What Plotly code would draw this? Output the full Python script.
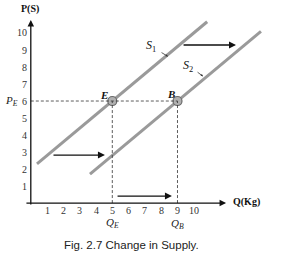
import plotly.graph_objects as go

# Data
x_ticks = [1, 2, 3, 4, 5, 6, 7, 8, 9, 10]
y_ticks = [1, 2, 3, 4, 5, 6, 7, 8, 9, 10]
s1_x = [0.38, 10.82]
s1_y = [2.3, 10.66]
s2_x = [3.63, 14.12]
s2_y = [1.7, 10.1]
eq_q = [5, 9]
eq_p = [6, 6]
eq_names = ["E", "B"]
shift_arrows = [  # (x0, x1, y)
    (9.28, 12.59, 9.29),
    (1.3, 4.55, 2.82),
    (5.23, 8.66, 0.41),
]

fig = go.Figure()
gray = "#9a9a9a"
fig.add_trace(go.Scatter(x=s1_x, y=s1_y, mode="lines", line=dict(color=gray, width=3), hoverinfo="skip"))
fig.add_trace(go.Scatter(x=s2_x, y=s2_y, mode="lines", line=dict(color=gray, width=3), hoverinfo="skip"))

# dashed guides
dash = "3px,2px"
fig.add_shape(type="line", x0=0, x1=eq_q[1], y0=eq_p[0], y1=eq_p[0], line=dict(color="#333", width=0.8, dash=dash))
for q, p in zip(eq_q, eq_p):
    fig.add_shape(type="line", x0=q, x1=q, y0=0, y1=p, line=dict(color="#333", width=0.8, dash=dash))

fig.add_trace(go.Scatter(x=eq_q, y=eq_p, mode="markers",
                         marker=dict(size=9, color="#b0b0b0", line=dict(color="#6a6a6a", width=1.2)),
                         hoverinfo="skip"))

ann = []
# axes
ann.append(dict(x=11.98, y=0, ax=-0.36, ay=0, xref="x", yref="y", axref="x", ayref="y",
                showarrow=True, arrowhead=2, arrowsize=1, arrowwidth=1.3, arrowcolor="#111", text=""))
ann.append(dict(x=0, y=10.76, ax=0, ay=-0.18, xref="x", yref="y", axref="x", ayref="y",
                showarrow=True, arrowhead=2, arrowsize=1, arrowwidth=1.3, arrowcolor="#111", text=""))
# shift arrows
for x0, x1, y in shift_arrows:
    ann.append(dict(x=x1, y=y, ax=x0, ay=y, xref="x", yref="y", axref="x", ayref="y",
                    showarrow=True, arrowhead=2, arrowsize=1, arrowwidth=1.4, arrowcolor="#111", text=""))

serif = "Liberation Serif"
for t in x_ticks:
    ann.append(dict(x=t, y=-0.42, xref="x", yref="y", text=str(t), showarrow=False,
                    font=dict(family=serif, size=10, color="#333")))
for t in y_ticks:
    ann.append(dict(x=-0.12, y=t, xref="x", yref="y", text=str(t), showarrow=False, xanchor="right",
                    font=dict(family=serif, size=10, color="#333")))

ann.append(dict(x=-0.02, y=11.41, xref="x", yref="y", text="<b>P(S)</b>", showarrow=False,
                font=dict(family=serif, size=10, color="#111")))
ann.append(dict(x=12.3, y=0.08, xref="x", yref="y", text="<b>Q(Kg)</b>", showarrow=False, xanchor="left",
                font=dict(family=serif, size=10, color="#111")))
ann.append(dict(x=-1.21, y=6, xref="x", yref="y", text="<i>P<sub>E</sub></i>", showarrow=False,
                font=dict(family=serif, size=11, color="#222")))
ann.append(dict(x=5, y=-1.2, xref="x", yref="y", text="<i>Q<sub>E</sub></i>", showarrow=False,
                font=dict(family=serif, size=11, color="#222")))
ann.append(dict(x=9, y=-1.22, xref="x", yref="y", text="<i>Q<sub>B</sub></i>", showarrow=False,
                font=dict(family=serif, size=11, color="#222")))
ann.append(dict(x=4.5, y=6.38, xref="x", yref="y", text="<b><i>E</i></b>", showarrow=False,
                font=dict(family=serif, size=11, color="#111")))
ann.append(dict(x=8.62, y=6.42, xref="x", yref="y", text="<b><i>B</i></b>", showarrow=False,
                font=dict(family=serif, size=11, color="#111")))
ann.append(dict(x=7.37, y=9.24, xref="x", yref="y", text="<i>S</i><sub>1</sub>", showarrow=False,
                font=dict(family=serif, size=12, color="#111")))
ann.append(dict(x=9.64, y=8.06, xref="x", yref="y", text="<i>S</i><sub>2</sub>", showarrow=False,
                font=dict(family=serif, size=12, color="#111")))
ann.append(dict(x=8.42, y=8.62, ax=7.93, ay=8.9, xref="x", yref="y", axref="x", ayref="y",
                showarrow=True, arrowhead=2, arrowsize=0.6, arrowwidth=0.8, arrowcolor="#333", text=""))
ann.append(dict(x=10.57, y=7.45, ax=10.14, ay=7.76, xref="x", yref="y", axref="x", ayref="y",
                showarrow=True, arrowhead=2, arrowsize=0.6, arrowwidth=0.8, arrowcolor="#333", text=""))
ann.append(dict(x=6.15, y=-2.47, xref="x", yref="y", text="Fig. 2.7 Change in Supply.", showarrow=False,
                font=dict(family="Liberation Sans", size=11.5, color="#222")))

fig.update_layout(
    width=288, height=259, margin=dict(l=0, r=0, t=0, b=0),
    paper_bgcolor="white", plot_bgcolor="white", showlegend=False,
    xaxis=dict(range=[-1.89, 15.78], visible=False, fixedrange=True),
    yaxis=dict(range=[-3.29, 11.94], visible=False, fixedrange=True),
    annotations=ann,
)
fig.write_html("out.html")
